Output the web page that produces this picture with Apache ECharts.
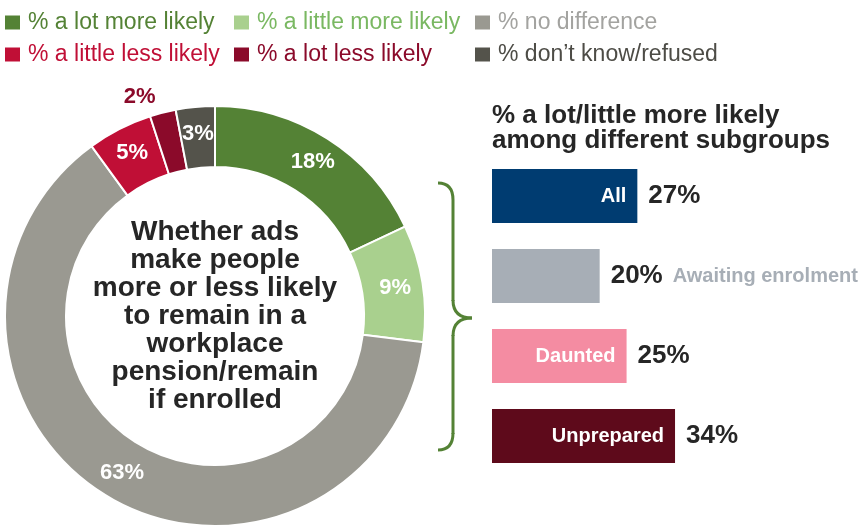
<!DOCTYPE html>
<html>
<head>
<meta charset="utf-8">
<script src="https://cdn.jsdelivr.net/npm/echarts@6/dist/echarts.min.js"></script>
<style>
  html, body { margin: 0; padding: 0; background: #ffffff; }
  #chart { width: 862px; height: 527px; }
</style>
</head>
<body>
<div id="chart"></div>
<script>
// Donut: share of responses
const responseNames = [
  '% a lot more likely',
  '% a little more likely',
  '% no difference',
  '% a little less likely',
  '% a lot less likely',
  '% don\u2019t know/refused'
];
const responseValues = [18, 9, 63, 5, 2, 3];
const responseColors = ['#548235', '#a9d08e', '#9a9991', '#c00f36', '#8b0a2a', '#54534b'];
const legendTextColors = ['#548235', '#7ab862', '#a3a3a0', '#c00f36', '#8b0a2a', '#4d4c46'];

// Bars: % a lot/little more likely by subgroup
const subgroups = ['All', 'Awaiting enrolment', 'Daunted', 'Unprepared'];
const subgroupValues = [27, 20, 25, 34];
const subgroupColors = ['#003c71', '#a7aeb6', '#f48ca2', '#5e0a1b'];
const nameInsideBar = [true, false, true, true];

const FONT = "'Liberation Sans', Arial, Helvetica, sans-serif";
const DARK = '#262626';

const chart = echarts.init(document.getElementById('chart'), null, { renderer: 'canvas' });

// one legend block per entry, laid out in a 3 x 2 grid
const legendLeft = [3, 232, 473];
const legendTop = [11, 43];
const legends = responseNames.map((name, i) => ({
  show: true,
  data: [name],
  left: legendLeft[i % 3],
  top: legendTop[Math.floor(i / 3)],
  padding: 0,
  itemWidth: 17,
  itemHeight: 16,
  icon: 'rect',
  selectedMode: false,
  textStyle: { color: legendTextColors[i], fontSize: 23, fontFamily: FONT, padding: [0, 0, 0, 2] }
}));

const pieData = responseNames.map((name, i) => {
  const item = { name: name, value: responseValues[i], itemStyle: { color: responseColors[i] } };
  if (name === '% a lot less likely') {
    item.label = { color: '#8b0a2a', offset: [-30, -42] };
  }
  return item;
});

const barData = subgroupValues.map((v, i) => ({
  value: v,
  itemStyle: { color: subgroupColors[i] },
  label: { show: nameInsideBar[i] }
}));

const overlayData = subgroupValues.map((v, i) => ({
  value: v,
  label: {
    formatter: nameInsideBar[i]
      ? '{v|' + v + '%}'
      : '{v|' + v + '%}{n|' + subgroups[i] + '}'
  }
}));

const option = {
  animation: false,
  backgroundColor: '#ffffff',
  textStyle: { fontFamily: FONT },
  legend: legends,
  title: {
    text: '% a lot/little more likely\namong different subgroups',
    left: 492,
    top: 103,
    padding: 0,
    textStyle: { fontFamily: FONT, fontSize: 26, fontWeight: 'bold', color: DARK, lineHeight: 25 }
  },
  grid: { left: 492, top: 156, width: 323, height: 320, containLabel: false },
  xAxis: { type: 'value', min: 0, max: 60, show: false },
  yAxis: { type: 'category', data: subgroups, inverse: true, show: false },
  graphic: [
    {
      type: 'text',
      x: 215,
      y: 316,
      z: 100,
      style: {
        text: 'Whether ads\nmake people\nmore or less likely\nto remain in a\nworkplace\npension/remain\nif enrolled',
        align: 'center',
        verticalAlign: 'middle',
        fill: DARK,
        fontSize: 28,
        fontWeight: 'bold',
        fontFamily: FONT,
        lineHeight: 28
      }
    },
    {
      type: 'group',
      children: [
        { type: 'bezierCurve', shape: { x1: 438, y1: 183, cpx1: 453, cpy1: 183, x2: 453, y2: 200 }, style: { stroke: '#548235', lineWidth: 3, fill: null } },
        { type: 'line', shape: { x1: 453, y1: 200, x2: 453, y2: 301 }, style: { stroke: '#548235', lineWidth: 3 } },
        { type: 'bezierCurve', shape: { x1: 453, y1: 300, cpx1: 453, cpy1: 318, x2: 472, y2: 318 }, style: { stroke: '#548235', lineWidth: 3, fill: null } },
        { type: 'bezierCurve', shape: { x1: 472, y1: 318, cpx1: 453, cpy1: 318, x2: 453, y2: 336 }, style: { stroke: '#548235', lineWidth: 3, fill: null } },
        { type: 'line', shape: { x1: 453, y1: 335, x2: 453, y2: 434 }, style: { stroke: '#548235', lineWidth: 3 } },
        { type: 'bezierCurve', shape: { x1: 453, y1: 433, cpx1: 453, cpy1: 450, x2: 438, y2: 450 }, style: { stroke: '#548235', lineWidth: 3, fill: null } }
      ]
    }
  ],
  series: [
    {
      type: 'pie',
      center: [215, 316],
      radius: [149, 210],
      startAngle: 90,
      clockwise: true,
      avoidLabelOverlap: false,
      silent: true,
      itemStyle: { borderColor: '#ffffff', borderWidth: 2 },
      label: {
        show: true,
        position: 'inside',
        formatter: '{c}%',
        color: '#ffffff',
        fontSize: 22,
        fontWeight: 'bold',
        fontFamily: FONT
      },
      labelLine: { show: false },
      data: pieData
    },
    {
      type: 'bar',
      barWidth: 54,
      silent: true,
      data: barData,
      label: {
        position: 'insideRight',
        distance: 11,
        formatter: (p) => subgroups[p.dataIndex],
        color: '#ffffff',
        fontSize: 20,
        fontWeight: 'bold',
        fontFamily: FONT
      }
    },
    {
      type: 'bar',
      barWidth: 54,
      barGap: '-100%',
      silent: true,
      itemStyle: { color: 'rgba(0,0,0,0)' },
      data: overlayData,
      label: {
        show: true,
        position: 'right',
        distance: 11,
        rich: {
          v: { fontSize: 26, fontWeight: 'bold', color: DARK, fontFamily: FONT },
          n: { fontSize: 20, fontWeight: 'bold', color: '#a7aeb6', fontFamily: FONT, padding: [0, 0, 0, 10] }
        }
      }
    }
  ]
};

chart.setOption(option);
</script>
</body>
</html>
